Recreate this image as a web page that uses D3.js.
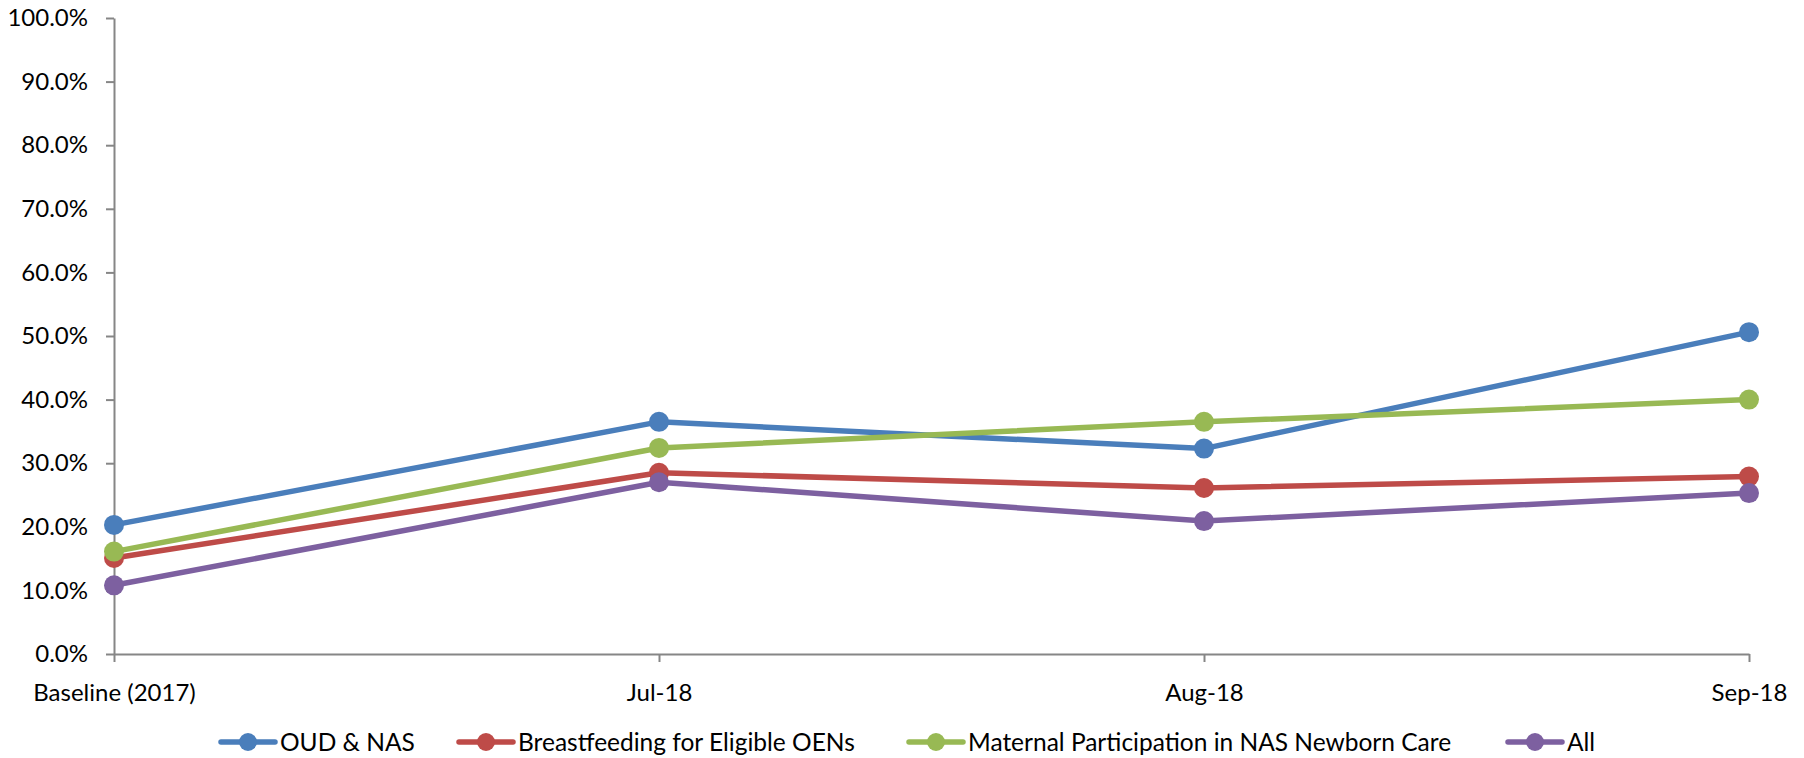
<!DOCTYPE html>
<html>
<head>
<meta charset="utf-8">
<script src="https://cdn.jsdelivr.net/npm/d3@7"></script>
<style>
  html, body { margin: 0; padding: 0; background: #fff; }
  svg { display: block; }
  text { font-family: Lato, "Open Sans", sans-serif; fill: #000; }
</style>
</head>
<body>
<svg id="chart" width="1804" height="758"></svg>
<script>
// Categories along the x axis
const categories = ["Baseline (2017)", "Jul-18", "Aug-18", "Sep-18"];

// Series values (fractions)
const oudNas        = [0.203, 0.365, 0.323, 0.506];
const breastfeeding = [0.151, 0.285, 0.261, 0.279];
const maternal      = [0.161, 0.324, 0.365, 0.400];
const allMeasures   = [0.108, 0.270, 0.209, 0.253];

const seriesNames  = ["OUD & NAS", "Breastfeeding for Eligible OENs", "Maternal Participation in NAS Newborn Care", "All"];
const seriesColors = ["#4A7EBB", "#BE4B48", "#98B954", "#7D60A0"];
const seriesValues = [oudNas, breastfeeding, maternal, allMeasures];

// Y axis ticks
const yTicks = [0, 0.1, 0.2, 0.3, 0.4, 0.5, 0.6, 0.7, 0.8, 0.9, 1.0];

const svg = d3.select("#chart");
const plotLeft = 114, plotRight = 1749, plotTop = 18, plotBottom = 654;

const x = d3.scalePoint().domain(categories).range([plotLeft, plotRight]);
const y = d3.scaleLinear().domain([0, 1]).range([plotBottom, plotTop]);

const axisColor = "#868686";
const axisFont = 24;

// Y axis
const yAxis = svg.append("g")
  .attr("transform", `translate(${plotLeft},0)`)
  .call(d3.axisLeft(y).tickValues(yTicks).tickFormat(d3.format(".1%")).tickSizeInner(8).tickSizeOuter(0).tickPadding(18));
yAxis.select(".domain").attr("stroke", axisColor).attr("stroke-width", 2);
yAxis.selectAll(".tick line").attr("stroke", axisColor).attr("stroke-width", 2);
yAxis.selectAll(".tick text").attr("font-size", axisFont).attr("font-family", "Lato").attr("fill", "#000");

// X axis
const xAxis = svg.append("g")
  .attr("transform", `translate(0,${plotBottom})`)
  .call(d3.axisBottom(x).tickSizeInner(8).tickSizeOuter(0).tickPadding(22));
xAxis.select(".domain").attr("stroke", axisColor).attr("stroke-width", 2);
xAxis.selectAll(".tick line").attr("stroke", axisColor).attr("stroke-width", 2);
xAxis.selectAll(".tick text").attr("font-size", axisFont).attr("font-family", "Lato").attr("fill", "#000");

// Lines and markers
const line = d3.line().x((d, i) => x(categories[i])).y(d => y(d));

seriesValues.forEach((vals, s) => {
  const g = svg.append("g");
  g.append("path")
    .attr("d", line(vals))
    .attr("fill", "none")
    .attr("stroke", seriesColors[s])
    .attr("stroke-width", 5.5)
    .attr("stroke-linejoin", "round");
  g.selectAll("circle").data(vals).join("circle")
    .attr("cx", (d, i) => x(categories[i]))
    .attr("cy", d => y(d))
    .attr("r", 10)
    .attr("fill", seriesColors[s]);
});

// Legend
const legendX = [221, 459, 909, 1508];
const legendY = 742;
const legend = svg.append("g");
seriesNames.forEach((name, s) => {
  const lg = legend.append("g").attr("transform", `translate(${legendX[s]},${legendY})`);
  lg.append("line").attr("x1", 0).attr("x2", 54).attr("y1", 0).attr("y2", 0)
    .attr("stroke", seriesColors[s]).attr("stroke-width", 5.5).attr("stroke-linecap", "round");
  lg.append("circle").attr("cx", 27).attr("cy", 0).attr("r", 9).attr("fill", seriesColors[s]);
  lg.append("text").attr("x", 59).attr("y", 0).attr("dy", "0.35em")
    .attr("font-size", 24.5).text(name);
});
</script>
</body>
</html>
